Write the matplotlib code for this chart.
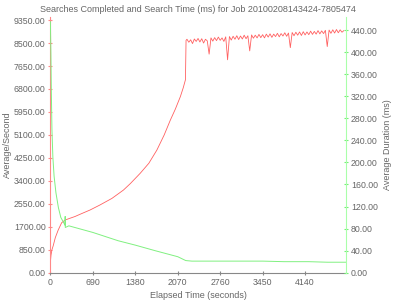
import numpy as np
import matplotlib
matplotlib.use('Agg')
import matplotlib.pyplot as plt
from matplotlib.ticker import FormatStrFormatter

plt.rcParams['font.family'] = ['Liberation Sans', 'DejaVu Sans']

title = 'Searches Completed and Search Time (ms) for Job 20100208143424-7805474'

# searches per second (left axis), ramp up part
rate_t = [0, 10, 25, 46, 80, 127, 183, 240, 300, 400, 500, 644, 800, 1000, 1188,
          1300, 1460, 1600, 1731, 1850, 1950, 2030, 2113, 2160, 2195, 2205]
rate_v = [400, 650, 850, 1000, 1300, 1580, 1850, 1950, 2000, 2080, 2180, 2320, 2500,
          2750, 3060, 3300, 3680, 4050, 4540, 5100, 5650, 6050, 6520, 6850, 7140, 8600]

# plateau, one sample every 30 s from 2220 s
plateau_start = 2220
plateau_step = 30
plateau_v = [8640, 8530, 8620, 8480, 8650, 8560, 8670, 8540, 8660, 8500,
             8640, 8580, 8090, 8690, 8570, 8700, 8590, 8720, 8600, 8690,
             8560, 8730, 7880, 8740, 8610, 8750, 8640, 8770, 8630, 8760,
             8650, 8790, 8660, 8770, 8210, 8800, 8680, 8790, 8690, 8820,
             8700, 8810, 8690, 8830, 8720, 8840, 8710, 8830, 8740, 8860,
             8730, 8850, 8760, 8880, 8750, 8870, 8330, 8890, 8770, 8900,
             8790, 8910, 8780, 8920, 8800, 8910, 8810, 8940, 8820, 8930,
             8830, 8960, 8840, 8950, 8850, 8970, 8370, 8980, 8860, 8990,
             8870, 9000, 8880, 8990, 8900, 8960]

# average duration in ms (right axis)
dur_t = [0, 8, 15, 25, 40, 60, 90, 130, 170, 210, 238, 240, 242, 300, 690, 1100,
         1380, 1700, 2070, 2200, 2300, 2800, 3450, 3800, 4200, 4500, 4800]
dur_v = [455, 400, 330, 260, 210, 175, 145, 118, 100, 92, 86, 102, 82, 85, 73, 58,
         50, 40, 29, 22, 21, 21, 21, 20, 20, 19, 19]

x_ticks = [0, 690, 1380, 2070, 2760, 3450, 4140]
left_ticks = [0, 850, 1700, 2550, 3400, 4250, 5100, 5950, 6800, 7650, 8500, 9350]
right_ticks = [0, 40, 80, 120, 160, 200, 240, 280, 320, 360, 400, 440]

plat_t = plateau_start + plateau_step * np.arange(len(plateau_v))
red_t = np.concatenate([rate_t, plat_t])
red_v = np.concatenate([rate_v, plateau_v])

txt = '#666666'
red = '#ff6060'
green = '#80f080'

fig = plt.figure(figsize=(4, 3), dpi=100)
ax = fig.add_axes([0.126, 0.091, 0.739, 0.852])
ax2 = ax.twinx()

ax.plot(red_t, red_v, color=red, lw=0.6)
ax2.plot(dur_t, dur_v, color=green, lw=0.7)

ax.set_xlim(0, 4805)
ax.set_ylim(0, 9460)
ax2.set_ylim(0, 463.5)

ax.set_xticks(x_ticks)
ax.set_yticks(left_ticks)
ax2.set_yticks(right_ticks)
ax.yaxis.set_major_formatter(FormatStrFormatter('%.2f'))
ax2.yaxis.set_major_formatter(FormatStrFormatter('%.2f'))

for s in ['top', 'right']:
    ax.spines[s].set_visible(False)
for s in ['top', 'left', 'bottom']:
    ax2.spines[s].set_visible(False)
ax.spines['left'].set_color('#ff8888')
ax.spines['bottom'].set_color('#888888')
ax2.spines['right'].set_color('#aaffaa')

ax.tick_params(axis='y', colors='#ff8888', labelcolor=txt, labelsize=6.3,
               direction='inout', length=3, pad=2)
ax.tick_params(axis='x', colors='#888888', labelcolor=txt, labelsize=6.3,
               direction='inout', length=3, pad=2)
ax2.tick_params(axis='y', colors='#77ee77', labelcolor=txt, labelsize=6.3,
                direction='inout', length=3, pad=2)

ax.set_xlabel('Elapsed Time (seconds)', color=txt, fontsize=6.5, labelpad=3)
ax.set_ylabel('Average/Second', color=txt, fontsize=6.5, labelpad=1.5)
ax2.set_ylabel('Average Duration (ms)', color=txt, fontsize=6.5, labelpad=4)
ax.set_title(title, color=txt, fontsize=6.5, pad=4)

fig.savefig('out.png', dpi=100)
